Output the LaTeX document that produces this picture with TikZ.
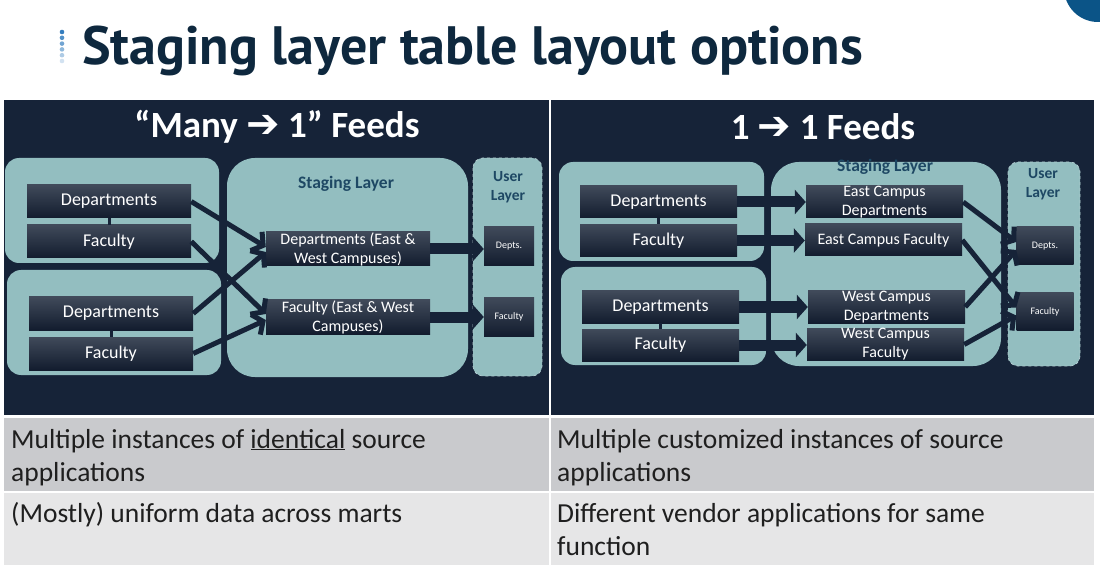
\documentclass[tikz,border=0pt]{standalone}
\usepackage{fontspec}
\setmainfont{Carlito}
\newfontfamily\titlefont{PT Sans}
\newfontfamily\symbolfont{DejaVu Sans}
\usetikzlibrary{arrows.meta}

\definecolor{navy}{RGB}{22,35,56}
\definecolor{titleblue}{RGB}{14,40,62}
\definecolor{capblue}{RGB}{11,84,135}
\definecolor{dotblue}{RGB}{52,125,190}
\definecolor{tealfill}{RGB}{147,190,192}
\definecolor{dashline}{RGB}{175,202,206}
\definecolor{boxtop}{RGB}{64,74,90}
\definecolor{boxbot}{RGB}{18,28,46}
\definecolor{stagetext}{RGB}{30,72,100}
\definecolor{rowgrey}{RGB}{201,202,205}
\definecolor{rowlight}{RGB}{230,230,231}

\newcommand{\feedarrow}{{\symbolfont\bfseries\fontsize{40}{40}\selectfont ➔}}

\tikzset{
  group/.style={fill=tealfill, rounded corners=14pt},
  stage/.style={fill=tealfill, rounded corners=28pt},
  user/.style={fill=tealfill, draw=dashline, dashed, line width=0.8pt, rounded corners=10pt},
  src/.style={rectangle, top color=boxtop, bottom color=boxbot, text=white,
    font=\fontsize{18}{20}\selectfont, inner sep=0pt, align=center,
    minimum width=164pt, minimum height=33pt},
  stg/.style={src, font=\fontsize{16}{19}\selectfont},
  usr/.style={src, font=\fontsize{10}{12}\selectfont, minimum width=50pt, minimum height=39pt},
  layer/.style={text=stagetext, font=\bfseries\fontsize{17.5}{19}\selectfont, align=center, inner sep=0pt},
  ulayer/.style={text=stagetext, font=\bfseries\fontsize{15.5}{19}\selectfont, align=center, inner sep=0pt},
  feed/.style={line width=5pt, navy, -{Straight Barb[length=8pt,width=22pt]}},
  block/.style={line width=11pt, navy, -{Triangle[length=11pt,width=24pt]}},
  link/.style={line width=3pt, navy},
  heading/.style={text=white, font=\bfseries\fontsize{37}{40}\selectfont, inner sep=0pt},
  cell/.style={anchor=base west, inner sep=0pt, text=black!88, font=\fontsize{27.5}{30}\selectfont}
}

\begin{document}
\begin{tikzpicture}[x=1pt, y=-1pt]
\useasboundingbox (0,0) rectangle (1100,569);
\fill[white] (0,0) rectangle (1100,569);

% corner circle
\begin{scope}
\clip (0,0) rectangle (1100,569);
\fill[capblue] (1098,-12) circle[radius=34pt];
\end{scope}

% title
\foreach \i/\p in {0/100,1/85,2/70,3/55,4/40,5/22}
  \fill[dotblue!\p!white] (62,32+5.8*\i) circle[radius=2.3pt];
\node[anchor=base west, inner sep=0pt, text=titleblue,
  font=\titlefont\bfseries\fontsize{54}{56}\selectfont] (title) at (82,65) {Staging layer table layout options};

% table
\fill[navy] (4,100) rectangle (1094,415);
\fill[rowgrey] (4,418) rectangle (1094,491);
\fill[rowlight] (4,493) rectangle (1094,565);
\draw[white, line width=2pt] (549.5,100) -- (549.5,565);

% Many -> 1 feeds
\node[heading] (headA) at (277,127) {“Many \feedarrow{} 1” Feeds};
\fill[group] (5,158) rectangle (219,263);
\fill[group] (7,270) rectangle (221,375);
\fill[stage] (227,158) rectangle (468,377);
\fill[user] (473,158) rectangle (542,376);
\node[layer] (stgLabelA) at (346,184) {Staging Layer};
\node[ulayer] (usrLabelA) at (508,187) {User\\Layer};

\node[src] (srcDepA1) at (109,201.5) {Departments};
\node[src] (srcFacA1) at (109,241.5) {Faculty};
\node[src] (srcDepA2) at (111,313.5) {Departments};
\node[src] (srcFacA2) at (111,353.5) {Faculty};
\draw[link] (srcDepA1.south) -- (srcFacA1.north);
\draw[link] (srcDepA2.south) -- (srcFacA2.north);

\node[stg, minimum height=34pt] (stgDepA) at (348,249) {Departments (East \&\\West Campuses)};
\node[stg, minimum height=34pt] (stgFacA) at (348,317) {Faculty (East \& West\\Campuses)};
\node[usr] (usrDepA) at (509,246.5) {Depts.};
\node[usr] (usrFacA) at (509,317) {Faculty};

\draw[feed] (srcDepA1.east) -- ([yshift=2pt]stgDepA.west);
\draw[feed] (srcDepA2.east) -- ([yshift=-3pt]stgDepA.west);
\draw[feed] (srcFacA1.east) -- ([yshift=3pt]stgFacA.west);
\draw[feed] (srcFacA2.east) -- ([yshift=-3pt]stgFacA.west);
\draw[block] (stgDepA.east) -- (usrDepA.west |- stgDepA.east);
\draw[block] (stgFacA.east) -- (usrFacA.west |- stgFacA.east);

% 1 -> 1 feeds
\node[heading] (headB) at (823,127) {1 \feedarrow{} 1 Feeds};
\fill[group] (559,162) rectangle (764,261);
\fill[group] (561,267) rectangle (766,365);
\fill[stage] (771,162) rectangle (1001,366);
\fill[user] (1008,162) rectangle (1080,366);
\node[layer] (stgLabelB) at (885,167) {Staging Layer};
\node[ulayer] (usrLabelB) at (1043,184) {User\\Layer};

\node[src, minimum width=157pt, minimum height=32pt] (srcDepB1) at (658.5,202) {Departments};
\node[src, minimum width=157pt, minimum height=32pt] (srcFacB1) at (658.5,240.5) {Faculty};
\node[src, minimum width=157pt, minimum height=32pt] (srcDepB2) at (660.5,307) {Departments};
\node[src, minimum width=157pt, minimum height=32pt] (srcFacB2) at (660.5,345) {Faculty};
\draw[link] (srcDepB1.south) -- (srcFacB1.north);
\draw[link] (srcDepB2.south) -- (srcFacB2.north);

\node[stg, minimum width=157pt, minimum height=32pt] (stgEDep) at (884.5,202) {East Campus\\Departments};
\node[stg, minimum width=157pt, minimum height=32pt] (stgEFac) at (883.5,240) {East Campus Faculty};
\node[stg, minimum width=157pt, minimum height=32pt] (stgWDep) at (886.5,307) {West Campus\\Departments};
\node[stg, minimum width=157pt, minimum height=32pt] (stgWFac) at (885.5,344.5) {West Campus\\Faculty};
\node[usr, minimum width=57pt, minimum height=38pt] (usrDepB) at (1045,246) {Depts.};
\node[usr, minimum width=57pt, minimum height=37pt] (usrFacB) at (1045,311.5) {Faculty};

\draw[block] (srcDepB1.east) -- (stgEDep.west |- srcDepB1.east);
\draw[block] (srcFacB1.east) -- (stgEFac.west |- srcFacB1.east);
\draw[block] (srcDepB2.east) -- (stgWDep.west |- srcDepB2.east);
\draw[block] (srcFacB2.east) -- (stgWFac.west |- srcFacB2.east);
\draw[feed] (stgEDep.east) -- ([yshift=4pt]usrDepB.west);
\draw[feed] (stgWDep.east) -- ([yshift=-4pt]usrDepB.west);
\draw[feed] (stgEFac.east) -- ([yshift=4pt]usrFacB.west);
\draw[feed] (stgWFac.east) -- ([yshift=-4pt]usrFacB.west);

% rows
\node[cell] (rowA1) at (11,448) {Multiple instances of \underline{identical} source};
\node[cell] (rowA2) at (11,481) {applications};
\node[cell] (rowB1) at (557,448) {Multiple customized instances of source};
\node[cell] (rowB2) at (557,481) {applications};
\node[cell] (rowA3) at (11,522) {(Mostly) uniform data across marts};
\node[cell] (rowB3) at (557,522) {Different vendor applications for same};
\node[cell] (rowB4) at (557,555) {function};
\end{tikzpicture}
\end{document}
